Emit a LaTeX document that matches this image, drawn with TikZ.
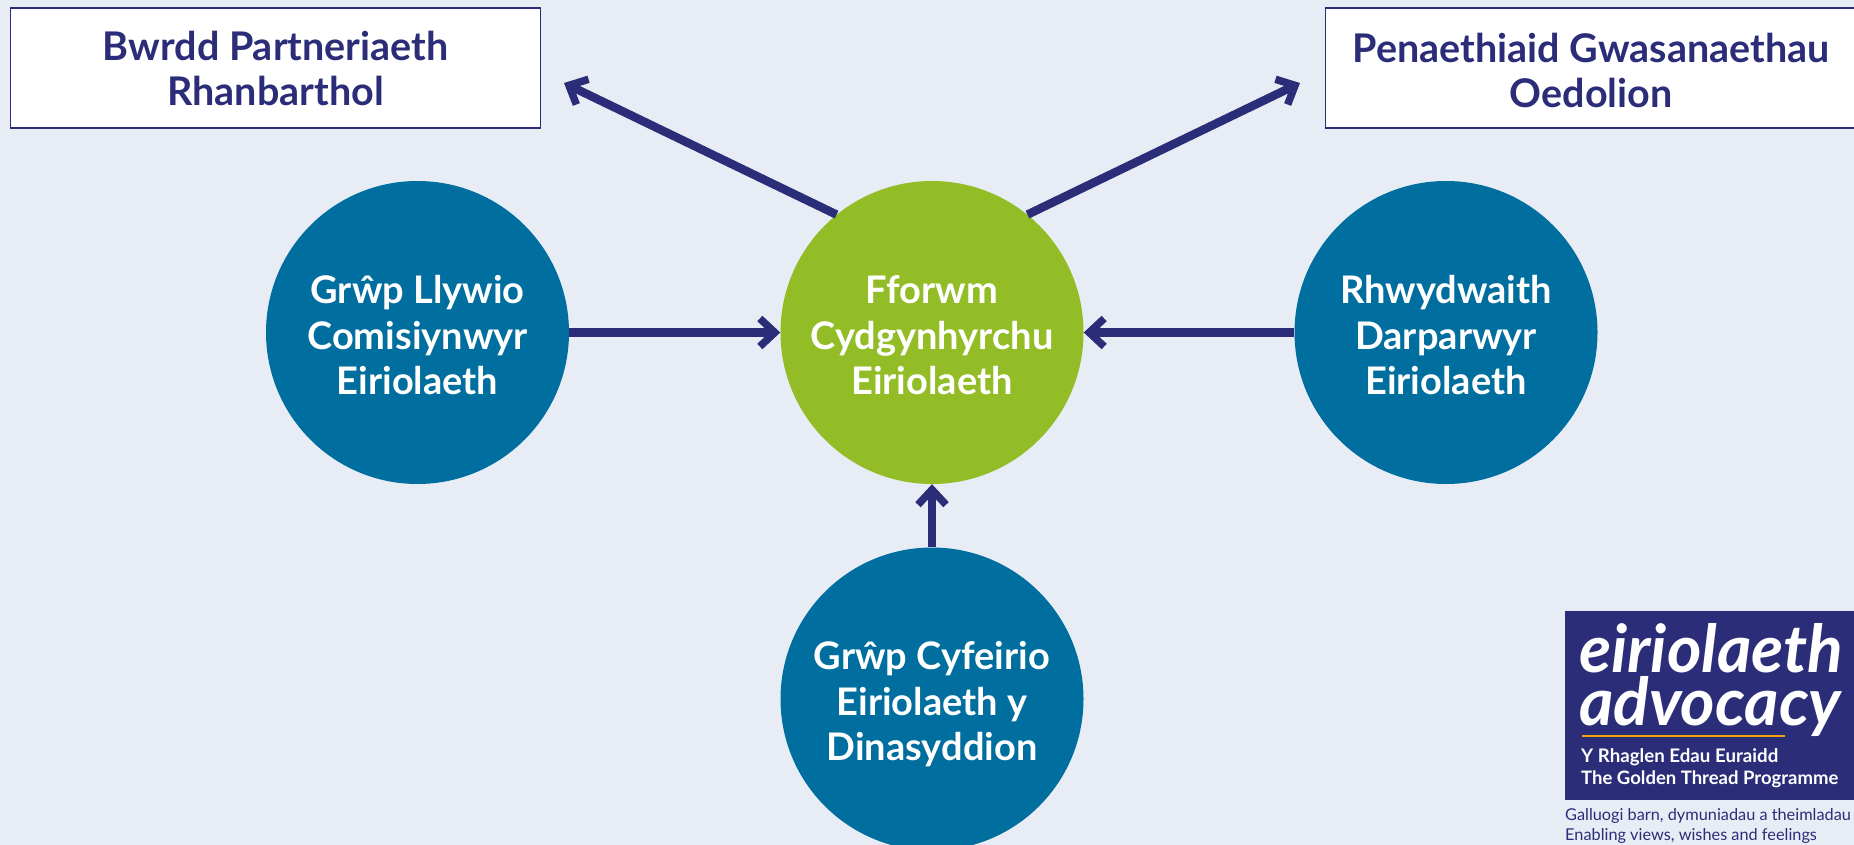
\documentclass[tikz,border=0pt]{standalone}
\usepackage{fontspec}
\setmainfont{Lato}
\usetikzlibrary{arrows.meta}
\definecolor{bgc}{HTML}{E8EDF5}
\definecolor{navy}{HTML}{2B2D78}
\definecolor{tealc}{HTML}{006E9E}
\definecolor{greenc}{HTML}{92BD27}
\definecolor{orangec}{HTML}{F0A30A}
\newcommand{\lowln}[2]{\raisebox{-#1pt}[28pt][8pt]{#2}}
\tikzset{
  x=1pt,y=-1pt,
  circ/.style={circle,minimum size=303pt,inner sep=0pt,text=white,align=center,font=\fontsize{38}{45.5}\selectfont\bfseries},
  boxn/.style={draw=navy,line width=1.2pt,fill=white,inner sep=0pt,text=navy,align=center,font=\fontsize{39.5}{45}\selectfont\bfseries,anchor=north west},
  conn/.style={draw=navy,line width=8.5pt,-{Straight Barb[length=15pt,width=28pt,line width=7.5pt]}},
  logotxt/.style={text=white,anchor=west,inner sep=0pt},
}
\begin{document}
\begin{tikzpicture}
\useasboundingbox (0,0) rectangle (1854,845);
\fill[bgc] (0,0) rectangle (1854,845);
\node[boxn,minimum width=530pt,minimum height=120pt] (bwrdd) at (10,7.5) {\lowln{4.7}{Bwrdd Partneriaeth}\\\lowln{4.7}{Rhanbarthol}};
\node[boxn,minimum width=531pt,minimum height=120pt] (pen) at (1325,7.5) {\lowln{6.7}{Penaethiaid Gwasanaethau}\\\lowln{6.7}{Oedolion}};
\node[circ,fill=tealc] (grwp) at (417.5,332.5) {\lowln{6.5}{Grŵp Llywio}\\\lowln{6.5}{Comisiynwyr}\\\lowln{6.5}{Eiriolaeth}};
\node[circ,fill=greenc] (fforwm) at (932,332.5) {\lowln{6.5}{Fforwm}\\\lowln{6.5}{Cydgynhyrchu}\\\lowln{6.5}{Eiriolaeth}};
\node[circ,fill=tealc] (rhwyd) at (1446,332.5) {\lowln{6.5}{Rhwydwaith}\\\lowln{6.5}{Darparwyr}\\\lowln{6.5}{Eiriolaeth}};
\node[circ,fill=tealc] (cyf) at (932,699) {\lowln{6}{Grŵp Cyfeirio}\\\lowln{6}{Eiriolaeth y}\\\lowln{6}{Dinasyddion}};
\coordinate (tipL) at (564,83);
\coordinate (tipR) at (1300,83);
\draw[conn] (fforwm.129) -- (tipL);
\draw[conn] (fforwm.51) -- (tipR);
\draw[conn] (grwp.east) -- (fforwm.west);
\draw[conn] (rhwyd.west) -- (fforwm.east);
\draw[conn] (cyf.north) -- (fforwm.south);
% logo
\node[fill=navy,inner sep=0pt,minimum width=289pt,minimum height=189pt,anchor=north west] (logo) at (1565,611) {};
\node[logotxt,align=left,font=\fontsize{66}{53}\selectfont\bfseries\itshape] (ei) at (1579,680.5) {eiriolaeth\\advocacy};
\fill[orangec] (1582,734.5) rectangle (1785,737);
\node[logotxt,font=\fontsize{18.7}{22}\selectfont\bfseries] (yr) at (1581,757) {Y Rhaglen Edau Euraidd};
\node[logotxt,font=\fontsize{18.5}{22}\selectfont\bfseries] (th) at (1581,779.5) {The Golden Thread Programme};
\node[anchor=west,inner sep=0pt,text=navy,font=\fontsize{16.3}{20}\selectfont] (gal) at (1565,816) {Galluogi barn, dymuniadau a theimladau};
\node[anchor=west,inner sep=0pt,text=navy,font=\fontsize{16.3}{20}\selectfont] (en) at (1565,836) {Enabling views, wishes and feelings};
\end{tikzpicture}
\end{document}
